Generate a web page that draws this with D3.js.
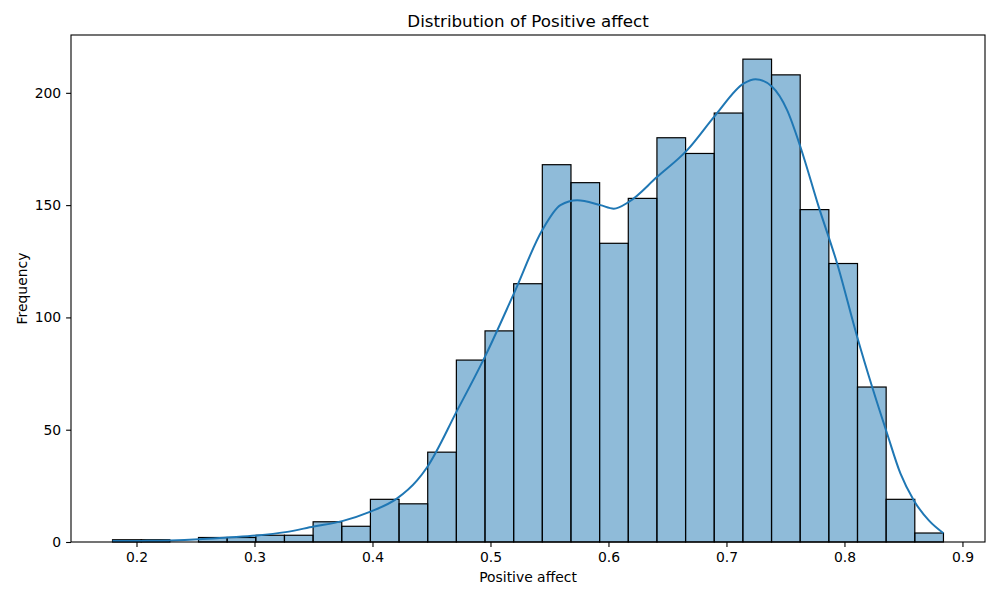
<!DOCTYPE html>
<html>
  <head>
    <title>Distribution of Positive affect</title>
    <script src="https://d3js.org/d3.v7.min.js" charset="utf-8"></script>
    <style>
    body {
        margin: 0;
        background: white;
        font-family: "DejaVu Sans", sans-serif;
    }
    .tick text {
        font-size: 13.9px;
        fill: #000;
    }
    </style>
  </head>

  <body>
    <script>
// histogram: 29 equal bins between binMin and binMax
var binMin = 0.1797;
var binMax = 0.8839;
var counts = [1, 1, 0, 2, 2, 3, 3, 9, 7, 19, 17, 40, 81, 94, 115,
              168, 160, 133, 153, 180, 173, 191, 215, 208, 148, 124, 69, 19, 4];

// kde curve (count scale)
var kdeX = [0.1797, 0.2050, 0.2288, 0.2528, 0.2768, 0.3022, 0.3263, 0.3503, 0.3743,
            0.3983, 0.4209, 0.4378, 0.4463, 0.4718, 0.4966, 0.5198, 0.5438, 0.5593,
            0.5735, 0.5932, 0.6045, 0.6172, 0.6413, 0.6667, 0.6907, 0.7147, 0.7246,
            0.7387, 0.7514, 0.7627, 0.7782, 0.7938, 0.8108, 0.8235, 0.8362, 0.8475,
            0.8588, 0.8715, 0.8839];
var kdeY = [0.4, 0.5, 0.7, 1.2, 2.0, 2.9, 4.4, 6.9, 9.3,
            13.5, 19.4, 27.4, 33.3, 58.6, 83.9, 110.6, 138.8, 150,
            152.2, 150, 148.4, 151.4, 162.6, 174.5, 190.1, 204.2, 206.1,
            202.7, 192.3, 175.9, 149.2, 124, 91.3, 69, 48.2, 30.4,
            18.5, 9.6, 3.9];

var xTicks = [0.2, 0.3, 0.4, 0.5, 0.6, 0.7, 0.8, 0.9];
var yTicks = [0, 50, 100, 150, 200];

var width = 1000;
var height = 600;
var margin = {top: 35, right: 15, bottom: 58, left: 71};
var innerW = width - margin.left - margin.right;
var innerH = height - margin.top - margin.bottom;

var binW = (binMax - binMin) / counts.length;
var bins = counts.map(function(c, i) {
  return {x0: binMin + i * binW, x1: binMin + (i + 1) * binW, n: c};
});
var kde = kdeX.map(function(x, i) { return [x, kdeY[i]]; });

var pad = (binMax - binMin) * 0.05;
var x = d3.scaleLinear()
  .domain([binMin - pad, binMax + pad])
  .range([0, innerW]);
var y = d3.scaleLinear()
  .domain([0, d3.max(counts) * 1.05])
  .range([innerH, 0]);

var svg = d3.select("body")
  .append("svg")
  .attr("width", width)
  .attr("height", height);

var g = svg.append("g")
  .attr("transform", "translate(" + margin.left + "," + margin.top + ")");

g.selectAll("rect.bar")
  .data(bins.filter(function(d) { return d.n > 0; }))
  .enter()
  .append("rect")
  .attr("class", "bar")
  .attr("x", function(d) { return x(d.x0); })
  .attr("width", function(d) { return x(d.x1) - x(d.x0); })
  .attr("y", function(d) { return y(d.n); })
  .attr("height", function(d) { return y(0) - y(d.n); })
  .attr("fill", "#1f77b4")
  .attr("fill-opacity", 0.5)
  .attr("stroke", "#000")
  .attr("stroke-width", 1.2);

var line = d3.line()
  .x(function(d) { return x(d[0]); })
  .y(function(d) { return y(d[1]); })
  .curve(d3.curveMonotoneX);

g.append("path")
  .datum(kde)
  .attr("fill", "none")
  .attr("stroke", "#1f77b4")
  .attr("stroke-width", 2)
  .attr("d", line);

var xAxis = g.append("g")
  .attr("transform", "translate(0," + innerH + ")")
  .call(d3.axisBottom(x).tickValues(xTicks).tickSize(4.9).tickPadding(4.9)
    .tickFormat(d3.format(".1f")));
var yAxis = g.append("g")
  .call(d3.axisLeft(y).tickValues(yTicks).tickSize(4.9).tickPadding(4.9));

[xAxis, yAxis].forEach(function(a) {
  a.select(".domain").remove();
  a.selectAll(".tick line").attr("stroke", "#000").attr("stroke-width", 1.1);
  a.selectAll(".tick text").style("font-family", "DejaVu Sans, sans-serif");
});

// frame
g.append("rect")
  .attr("width", innerW)
  .attr("height", innerH)
  .attr("fill", "none")
  .attr("stroke", "#000")
  .attr("stroke-width", 1.1);

svg.append("text")
  .attr("x", margin.left + innerW / 2)
  .attr("y", 27)
  .attr("text-anchor", "middle")
  .style("font-size", "16.7px")
  .text("Distribution of Positive affect");

svg.append("text")
  .attr("x", margin.left + innerW / 2)
  .attr("y", 582)
  .attr("text-anchor", "middle")
  .style("font-size", "13.9px")
  .text("Positive affect");

svg.append("text")
  .attr("transform", "translate(27," + (margin.top + innerH / 2) + ") rotate(-90)")
  .attr("text-anchor", "middle")
  .style("font-size", "13.9px")
  .text("Frequency");
    </script>
  </body>
</html>
